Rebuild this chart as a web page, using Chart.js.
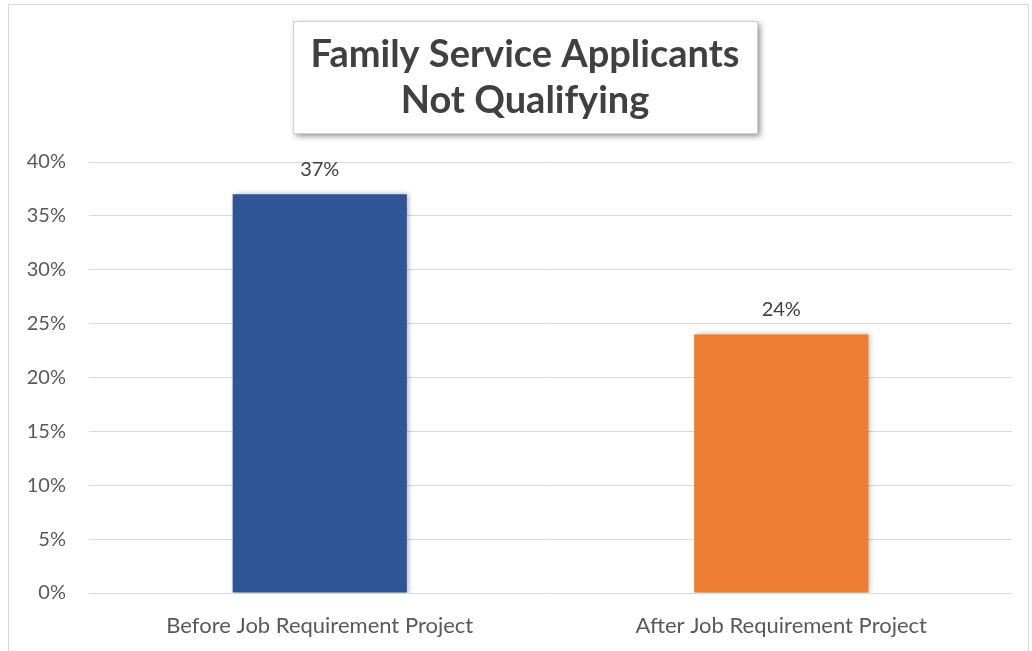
<!DOCTYPE html>
<html><head><meta charset="utf-8">
<script src="https://cdn.jsdelivr.net/npm/chart.js@4/dist/chart.umd.min.js"></script>
<style>html,body{margin:0;padding:0;background:#fff;}#wrap{width:1032px;height:651px;position:relative;}</style>
</head><body><div id="wrap"><canvas id="c" width="1032" height="651"></canvas></div>
<script>
const categories = ['Before Job Requirement Project', 'After Job Requirement Project'];
const values = [37, 24];
const barColors = ['#2F5597', '#ED7D31'];
const titleLines = ['Family Service Applicants', 'Not Qualifying'];
const yTicks = [0, 5, 10, 15, 20, 25, 30, 35, 40];

const FONT = 'Lato, "Open Sans", sans-serif';

const frame = {
  id: 'frame',
  beforeDraw(chart) {
    const ctx = chart.ctx;
    ctx.save();
    ctx.fillStyle = '#fff';
    ctx.fillRect(0, 0, chart.width, chart.height);
    ctx.strokeStyle = '#d9d9d9';
    ctx.lineWidth = 1;
    ctx.strokeRect(8.5, 4.5, 1020, 700);
    ctx.restore();
  },
  afterDraw(chart) {
    const ctx = chart.ctx;
    ctx.save();
    const bx = 293, by = 21, bw = 464, bh = 112;
    ctx.shadowColor = 'rgba(0,0,0,0.45)';
    ctx.shadowBlur = 6;
    ctx.shadowOffsetX = 3;
    ctx.shadowOffsetY = 3;
    ctx.fillStyle = '#fff';
    ctx.fillRect(bx, by, bw, bh);
    ctx.shadowColor = 'transparent';
    ctx.strokeStyle = '#d0d0d0';
    ctx.strokeRect(bx + 0.5, by + 0.5, bw, bh);
    ctx.fillStyle = '#404040';
    ctx.font = 'bold 38px ' + FONT;
    ctx.textAlign = 'center';
    ctx.textBaseline = 'middle';
    ctx.fillText(titleLines[0], bx + bw / 2, 55);
    ctx.fillText(titleLines[1], bx + bw / 2, 101);
    ctx.restore();
  }
};

const barShadow = {
  id: 'barShadow',
  beforeDatasetDraw(chart) {
    const ctx = chart.ctx;
    ctx.save();
    ctx.shadowColor = 'rgba(0,0,0,0.3)';
    ctx.shadowBlur = 5;
    ctx.shadowOffsetX = 2;
    ctx.shadowOffsetY = 0;
  },
  afterDatasetDraw(chart) {
    chart.ctx.restore();
  }
};

const dataLabels = {
  id: 'dataLabels',
  afterDatasetsDraw(chart) {
    const ctx = chart.ctx;
    ctx.save();
    ctx.fillStyle = '#404040';
    ctx.font = '20px ' + FONT;
    ctx.textAlign = 'center';
    ctx.textBaseline = 'middle';
    chart.getDatasetMeta(0).data.forEach((bar, i) => {
      ctx.fillText(values[i] + '%', bar.x, bar.y - 25);
    });
    ctx.restore();
  }
};

new Chart(document.getElementById('c'), {
  type: 'bar',
  data: {
    labels: categories,
    datasets: [{ data: values, backgroundColor: barColors, borderWidth: 0,
      barPercentage: 0.755, categoryPercentage: 0.5 }]
  },
  options: {
    responsive: false,
    animation: false,
    devicePixelRatio: 1,
    layout: { padding: { top: 162, left: 8, right: 20, bottom: 0 } },
    plugins: { legend: { display: false }, tooltip: { enabled: false }, title: { display: false } },
    scales: {
      x: {
        grid: { display: false, drawTicks: false },
        border: { display: false },
        ticks: { color: '#595959', font: { family: FONT, size: 22 }, padding: 20 },
        afterFit(s) { s.height = 58; }
      },
      y: {
        min: 0, max: 40,
        afterBuildTicks(s) { s.ticks = yTicks.map(v => ({ value: v })); },
        grid: { color: '#d9d9d9', lineWidth: 1, drawTicks: false },
        border: { display: false },
        ticks: { color: '#595959', font: { family: FONT, size: 20 }, padding: 23,
          callback: v => v + '%' },
        afterFit(s) { s.width = 81; }
      }
    }
  },
  plugins: [frame, barShadow, dataLabels]
});
</script></body></html>
